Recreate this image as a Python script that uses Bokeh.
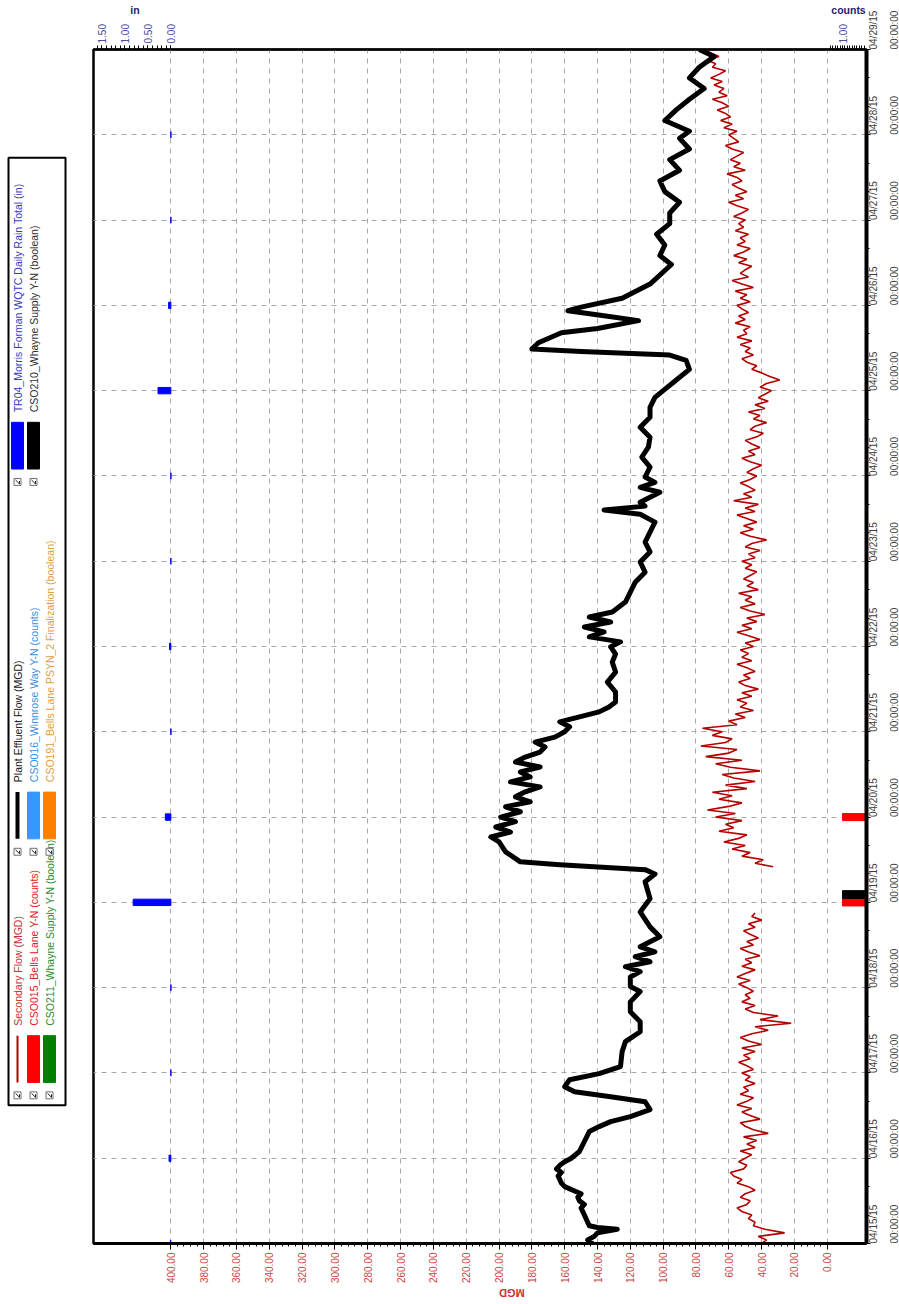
import math
from bokeh.plotting import figure
from bokeh.models import Range1d, LinearAxis, FixedTicker, NumeralTickFormatter
from bokeh.layouts import row
from bokeh.embed import file_html
from bokeh.resources import INLINE
from bokeh.core.properties import value

# ---------------- data ----------------
day_labels = ["04/15/15", "04/16/15", "04/17/15", "04/18/15", "04/19/15", "04/20/15", "04/21/15",
              "04/22/15", "04/23/15", "04/24/15", "04/25/15", "04/26/15", "04/27/15", "04/28/15", "04/29/15"]
time_label = "00:00:00"

# Plant Effluent Flow (MGD), time in hours since 04/15/15 00:00
plant_hours = [0, 1, 2, 3, 4, 4.5, 5, 6, 8, 10, 11, 12, 13, 14, 15, 16, 17, 18, 19, 20, 21, 22, 23, 24,
               25.9, 28.7, 31.5, 32.9, 34.3, 35.7, 37.7, 39.9, 41.3, 42.7, 44.1, 46.1, 47.8, 49.8, 54, 56.8,
               59.6, 62.4, 65.2, 68, 70.9, 72.3, 75, 76.5, 77.9, 79.3, 80.7, 82.1, 83.5, 86.3, 89.1, 93.3,
               97, 101.8, 104, 105.2, 106.6, 107.4, 110.2, 113, 114.4, 115.8, 117.2, 118.7, 120, 121.5,
               122.9, 124.3, 125.7, 127.1, 128.5, 129.9, 131.3, 132.7, 134.1, 135.5, 136.9, 138.3, 139.7,
               141.1, 142.5, 144, 145.4, 146.8, 148.2, 149.6, 151, 152.4, 155.2, 158, 160.8, 163.6, 165.9,
               167.9, 169.3, 170.7, 172.1, 173.5, 174.9, 176.3, 177.7, 180.5, 183.3, 186.1, 188.9, 191.8,
               194.6, 197.4, 200.2, 203, 205.2, 206.4, 207.5, 208.6, 210, 211.4, 212.8, 214.2, 215.7,
               218.5, 221.3, 224.1, 226.9, 229.7, 232.5, 235.3, 238.1, 240, 243, 246, 248.5, 250, 251,
               251.7, 253.5, 256.3, 257.5, 259.7, 261, 262.5, 263.5, 266, 270, 275.5, 278, 281, 284, 287,
               290, 293, 296, 299, 302, 305, 308, 311, 313, 316, 319, 322, 325, 328, 331, 334, 336]
plant_mgd = [143, 146, 142, 140, 128, 140, 145, 146, 148, 150, 148, 151, 152, 150, 155, 160, 162, 163, 164, 162, 165, 163, 160, 156,
             151, 148, 145, 139, 132, 120, 108, 111, 132, 154, 160, 157, 139, 126, 125, 123,
             114, 114, 120, 120, 114, 120, 120, 114, 123, 108, 117, 105, 114, 102, 108, 114,
             108, 111, 105, 111, 163, 187, 196, 200, 205, 193, 202, 190, 199, 187,
             196, 181, 190, 184, 175, 193, 181, 187, 175, 190, 184, 175, 172,
             178, 166, 160, 157, 163, 151, 139, 133, 129, 129, 134, 129, 131, 129,
             132, 126, 145, 136, 148, 132, 145, 131, 123, 120, 117, 111, 114,
             108, 111, 108, 105, 114, 136, 111, 114, 108, 102, 114, 105, 111,
             108, 113, 109, 108, 114, 108, 108, 105, 100, 92, 84, 86, 96, 150,
             180, 176, 162, 140, 115, 135, 158, 150, 125, 108, 95, 102, 99, 104, 96,
             96, 90, 99, 102, 90, 96, 84, 90, 84, 99, 92, 84, 75, 84, 78, 69, 78]

nan = float("nan")
# Secondary Flow (MGD), hourly readings, one list per day (04/15 ... 04/28) + 04/29 00:00
sec_0415 = [40, 37, 42, 26, 38, 45, 44, 48, 46, 52, 55, 49, 47, 53, 50, 44, 48, 55, 52, 57, 59, 51, 49, 54]
sec_0416 = [50, 46, 53, 44, 49, 43, 51, 36, 45, 50, 53, 41, 47, 52, 46, 55, 49, 45, 53, 48, 51, 44, 50, 47]
sec_0417 = [52, 45, 49, 54, 47, 51, 44, 52, 40, 48, 53, 46, 36, 44, 22, 41, 30, 45, 50, 44, 52, 47, 50, 45]
sec_0418 = [49, 54, 47, 55, 50, 44, 52, 46, 50, 41, 48, 53, 45, 49, 42, 47, 51, 44, 48, 40, 46, 44, nan, nan]
sec_0419 = [nan, nan, nan, nan, nan, nan, nan, nan, nan, nan, 33, 44, 39, 52, 47, 58, 50, 63, 54, 49, 66, 57, 62, 52]
sec_0420 = [68, 56, 73, 60, 52, 66, 58, 70, 49, 62, 44, 57, 64, 41, 59, 68, 52, 74, 60, 55, 77, 62, 58, 70]
sec_0421 = [64, 76, 55, 60, 50, 56, 45, 53, 49, 55, 46, 52, 42, 50, 54, 47, 51, 44, 49, 55, 46, 52, 48, 53]
sec_0422 = [45, 50, 41, 48, 55, 46, 52, 43, 49, 38, 47, 53, 44, 50, 46, 54, 42, 49, 45, 51, 47, 43, 50, 46]
sec_0423 = [52, 44, 48, 41, 50, 46, 37, 47, 53, 45, 51, 43, 49, 55, 44, 50, 42, 57, 46, 51, 44, 48, 53, 47]
sec_0424 = [43, 49, 45, 40, 47, 52, 44, 48, 41, 46, 50, 43, 39, 47, 44, 37, 45, 41, 48, 38, 44, 36, 42, 38]
sec_0425 = [34, 41, 37, 29, 35, 40, 46, 43, 49, 52, 45, 50, 47, 53, 46, 55, 49, 51, 47, 56, 50, 54, 48, 52]
sec_0426 = [55, 47, 53, 49, 56, 45, 52, 58, 48, 53, 50, 46, 54, 49, 57, 51, 47, 55, 50, 53, 48, 56, 51, 54]
sec_0427 = [50, 57, 52, 48, 55, 60, 51, 56, 49, 54, 58, 52, 55, 61, 50, 57, 53, 59, 55, 51, 58, 62, 54, 57]
sec_0428 = [60, 55, 63, 58, 65, 59, 62, 67, 60, 64, 70, 61, 66, 63, 69, 64, 71, 66, 62, 70, 68, 73, 66, 71]
sec_0429 = [74]
sec_mgd = (sec_0415 + sec_0416 + sec_0417 + sec_0418 + sec_0419 + sec_0420 + sec_0421 + sec_0422 +
           sec_0423 + sec_0424 + sec_0425 + sec_0426 + sec_0427 + sec_0428 + sec_0429)
sec_hours = list(range(len(sec_mgd)))

# TR04 daily rain total (in), one value per day
rain_hours = [0, 24, 48, 72, 96, 120, 144, 168, 192, 216, 240, 264, 288, 312]
rain_in = [0.01, 0.04, 0.0, 0.0, 0.82, 0.12, 0.0, 0.03, 0.0, 0.0, 0.28, 0.05, 0.0, 0.0]

# CSO015 Bells Lane (counts) and CSO210 Whayne Supply (boolean)
cso015_hours = [96, 120]
cso015_counts = [1, 1]
cso210_hours = [98.2]
cso210_bool = [1]

leg_labels = ["Secondary Flow (MGD)", "CSO015_Bells Lane Y-N (counts)", "CSO211_Whayne Supply Y-N (boolean)",
              "Plant Effluent Flow (MGD)", "CSO016_Winnrose Way Y-N (counts)", "CSO191_Bells Lane PSYN_2 Finalization (boolean)",
              "TR04_Morris Forman WQTC Daily Rain Total (in)", "CSO210_Whayne Supply Y-N (boolean)"]
leg_colors = ["#b40000", "#ff0000", "#008000", "#000000", "#3399ff", "#ff8000", "#0000ff", "#000000"]
leg_text_colors = ["#c83232", "#e02020", "#2e8b2e", "#202020", "#3c8fe0", "#e0a040", "#3a3ac0", "#303030"]
leg_kind = ["line", "rect", "rect", "line", "rect", "rect", "rect", "rect"]

# ---------------- main figure ----------------
MGD_L, MGD_R = 447.1, -23.9
IN_L, IN_R = 1.683, -15.13
C_L = 32.225
H_END = 336
FW, FH = 773, 1194
TOTAL_H = 1300
LW = 68

p = figure(frame_width=FW, frame_height=FH,
           x_range=Range1d(MGD_L, MGD_R), y_range=Range1d(0, H_END),
           y_axis_location="right", output_backend="svg", toolbar_location=None,
           min_border_left=93 - LW, min_border_right=10, min_border_top=46, min_border_bottom=58)
p.extra_x_ranges = {"in": Range1d(IN_L, IN_R), "counts": Range1d(C_L, 0)}
p.outline_line_color = "black"
p.outline_line_width = 2.5
p.background_fill_color = "white"
p.border_fill_color = "white"

def style_axis(ax, color, size="10px"):
    ax.major_label_text_color = color
    ax.major_label_text_font = "Liberation Sans"
    ax.major_label_text_font_size = size
    ax.major_tick_in = 0
    ax.minor_tick_in = 0

xa = p.xaxis[0]
xa.ticker = FixedTicker(ticks=list(range(0, 401, 20)), minor_ticks=list(range(0, 401, 4)))
xa.formatter = NumeralTickFormatter(format="0.00")
xa.major_label_orientation = math.pi / 2
style_axis(xa, "#cc4444")
xa.axis_line_width = 3
xa.major_tick_out = 6
xa.minor_tick_out = 3
xa.major_label_standoff = 3

# MGD title below (upside down, as in the rotated original)
mgd_ax = LinearAxis(ticker=FixedTicker(ticks=[200]), major_label_overrides={200: "MGD"})
style_axis(mgd_ax, "#cc3333", "11px")
mgd_ax.major_label_text_font_style = "bold"
mgd_ax.major_label_orientation = math.pi
mgd_ax.axis_line_color = None
mgd_ax.major_tick_line_color = None
mgd_ax.minor_tick_line_color = None
mgd_ax.major_label_standoff = 0
p.add_layout(mgd_ax, "below")

day_ticks = list(range(0, H_END + 1, 24))
ya = p.yaxis[0]
ya.ticker = FixedTicker(ticks=day_ticks, minor_ticks=list(range(0, H_END + 1, 8)))
ya.major_label_overrides = {t: lab for t, lab in zip(day_ticks, day_labels)}
ya.major_label_orientation = math.pi / 2
style_axis(ya, "#404040")
ya.axis_line_width = 4
ya.major_tick_out = 4
ya.minor_tick_out = 3
ya.major_label_standoff = 3

ya2 = LinearAxis(ticker=FixedTicker(ticks=day_ticks),
                 major_label_overrides={t: time_label for t in day_ticks})
ya2.major_label_orientation = math.pi / 2
style_axis(ya2, "#404040")
ya2.axis_line_color = None
ya2.major_tick_line_color = None
ya2.minor_tick_line_color = None
ya2.major_label_standoff = 1
p.add_layout(ya2, "right")

# top axis: rain (in) on the left part, counts on the right part
in_ticks = [1.5, 1.0, 0.5, 0.0]
count_ticks = [1.0, 0.0]
def count_to_in(c):
    return IN_L + (1 - c / C_L) * (IN_R - IN_L)
top_ticks = in_ticks + [count_to_in(c) for c in count_ticks]
top_minor = [i / 10 for i in range(0, 17)] + [count_to_in(i / 10) for i in range(0, 16)]
overrides = {t: f"{t:.2f}" for t in in_ticks}
for c in count_ticks:
    overrides[count_to_in(c)] = f"{c:.2f}"
ta = LinearAxis(x_range_name="in", ticker=FixedTicker(ticks=top_ticks, minor_ticks=top_minor),
                major_label_overrides=overrides)
ta.major_label_orientation = math.pi / 2
style_axis(ta, "#4a4aa0")
ta.axis_line_width = 2
ta.major_tick_out = 4
ta.minor_tick_out = 4
ta.major_label_standoff = 2
p.add_layout(ta, "above")

t_in, t_counts = 0.78, count_to_in(0.75)
tt = LinearAxis(x_range_name="in", ticker=FixedTicker(ticks=[t_in, t_counts]),
                major_label_overrides={t_in: "in", t_counts: "counts"})
style_axis(tt, "#23236e", "10.5px")
tt.major_label_text_font_style = "bold"
tt.axis_line_color = None
tt.major_tick_line_color = None
tt.minor_tick_line_color = None
tt.major_label_standoff = 0
p.add_layout(tt, "above")

p.xgrid.grid_line_color = "#a8a8a8"
p.xgrid.grid_line_dash = "5 5"
p.ygrid.grid_line_color = "#a8a8a8"
p.ygrid.grid_line_dash = "5 5"

# series
p.line(sec_mgd, sec_hours, line_color="#b40000", line_width=1.6)
p.line(plant_mgd, plant_hours, line_color="black", line_width=5, line_join="round")
p.hbar(y=rain_hours, height=1.8, left=0, right=rain_in, x_range_name="in",
       fill_color="#0000ff", line_color="#0000ff")
p.hbar(y=cso015_hours, height=2.0, left=0, right=cso015_counts, x_range_name="counts",
       fill_color="#ff0000", line_color="#ff0000")
p.hbar(y=cso210_hours, height=2.2, left=0, right=cso210_bool, x_range_name="counts",
       fill_color="black", line_color="black")

# ---------------- legend figure (coordinates = page pixels) ----------------
lg = figure(width=LW, height=TOTAL_H, x_range=Range1d(0, LW), y_range=Range1d(1242, 48),
            output_backend="svg", toolbar_location=None,
            min_border_left=0, min_border_right=0, min_border_top=48, min_border_bottom=TOTAL_H - 1242)
lg.axis.visible = False
lg.xgrid.visible = False
lg.ygrid.visible = False
lg.outline_line_color = None

box_l, box_r, box_t, box_b = 8, 65, 157, 1110
lg.quad(left=[box_l], right=[box_r], top=[box_t], bottom=[box_b], fill_color="white",
        line_color="black", line_width=2)

col_x = [17, 33, 49, 17, 33, 49, 17, 33]
chk_y = [1100, 1100, 1100, 855, 855, 855, 483, 483]
for i in range(8):
    cx, cy = col_x[i], chk_y[i]
    lg.rect(x=[cx], y=[cy], width=7, height=7, fill_color="white", line_color="#707070", line_width=1)
    lg.line(x=[cx - 2, cx + 2, cx + 2], y=[cy - 2, cy + 2, cy - 1], line_color="#202020", line_width=1)
    if leg_kind[i] == "line":
        lw = 2 if i == 0 else 4
        lg.line(x=[cx, cx], y=[cy - 13, cy - 60], line_color=leg_colors[i], line_width=lw)
    else:
        lg.quad(left=[cx - 6], right=[cx + 6], top=[cy - 60], bottom=[cy - 13],
                fill_color=leg_colors[i], line_color=leg_colors[i])
    lg.text(x=[cx], y=[cy - 70], text=[leg_labels[i]], angle=math.pi / 2, text_font_size="10.5px",
            text_font=value("Liberation Sans"), text_color=leg_text_colors[i],
            text_align="left", text_baseline="middle")

layout = row(lg, p)
open("out.html", "w").write(file_html(layout, INLINE))
